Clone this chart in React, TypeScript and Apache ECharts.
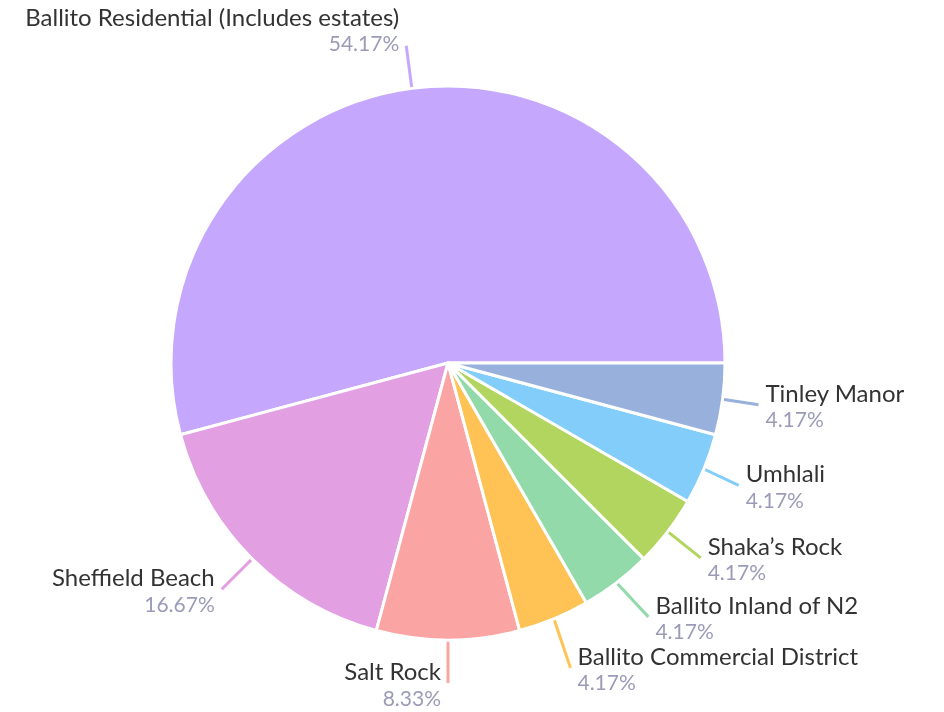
import React, { useEffect, useRef } from "react";
import * as echarts from "echarts";

const categories = [
  "Ballito Residential (Includes estates)",
  "Sheffield Beach",
  "Salt Rock",
  "Ballito Commercial District",
  "Ballito Inland of N2",
  "Shaka\u2019s Rock",
  "Umhlali",
  "Tinley Manor",
];
const values = [13, 4, 2, 1, 1, 1, 1, 1];
const colors = [
  "#c5a8fd",
  "#e2a0e2",
  "#fba4a4",
  "#fec354",
  "#93daab",
  "#b1d55e",
  "#83cdfa",
  "#98b0dc",
];

export default function App() {
  const ref = useRef<HTMLDivElement>(null);
  useEffect(() => {
    if (!ref.current) return;
    const chart = echarts.init(ref.current, undefined, { renderer: "svg" });
    const total = values.reduce((a, b) => a + b, 0);
    chart.setOption({
      animation: false,
      textStyle: { fontFamily: "Lato" },
      series: [
        {
          type: "pie",
          center: [448, 363],
          radius: 277,
          startAngle: 0,
          clockwise: false,
          avoidLabelOverlap: true,
          itemStyle: { borderColor: "#fff", borderWidth: 3 },
          label: {
            show: true,
            formatter: (p: any) =>
              `{n|${p.name}}\n{p|${((p.value / total) * 100).toFixed(2)}%}`,
            distanceToLabelLine: 7,
            rich: {
              n: { fontSize: 24, color: "#333333", lineHeight: 28, fontFamily: "Lato" },
              p: { fontSize: 21, color: "#9b9bb9", lineHeight: 25, fontFamily: "Lato" },
            },
          },
          labelLine: {
            show: true,
            length: 43,
            length2: 0,
            lineStyle: { width: 3 },
          },
          labelLayout: (params: any) =>
            params.dataIndex === 0 ? { dy: -17 } : {},
          data: categories.map((c, i) => ({
            name: c,
            value: values[i],
            itemStyle: { color: colors[i] },
          })),
        },
      ],
    });
    return () => chart.dispose();
  }, []);
  return (
    <div
      ref={ref}
      style={{ position: "fixed", left: 0, top: 0, width: 944, height: 712 }}
    />
  );
}
